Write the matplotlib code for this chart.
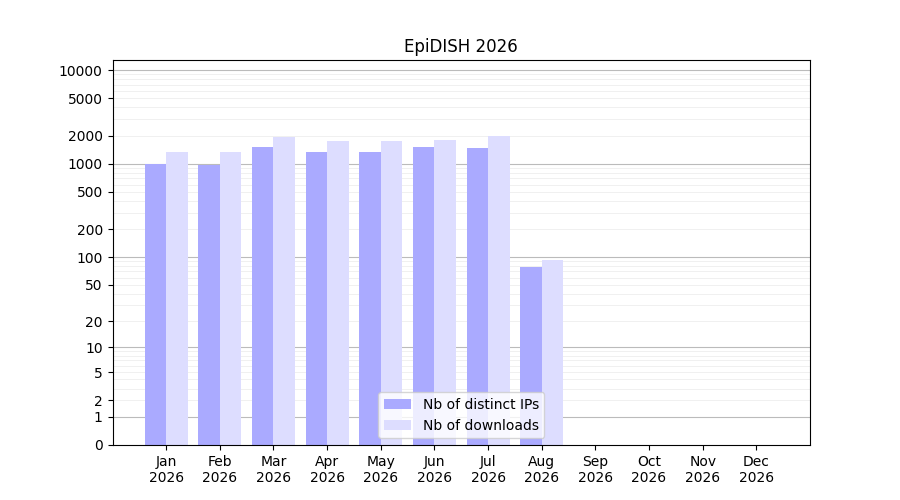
import matplotlib
matplotlib.use("Agg")
import matplotlib.pyplot as plt
import numpy as np

months = ["Jan", "Feb", "Mar", "Apr", "May", "Jun", "Jul", "Aug", "Sep", "Oct", "Nov", "Dec"]
year = "2026"
ips = [1000, 980, 1520, 1320, 1320, 1500, 1480, 78]
downloads = [1350, 1330, 1950, 1750, 1750, 1800, 1980, 93]
yticks = [0, 1, 2, 5, 10, 20, 50, 100, 200, 500, 1000, 2000, 5000, 10000]

fig, ax = plt.subplots(figsize=(9, 5), dpi=100)
ax.set_yscale("function", functions=(lambda v: np.log10(1 + np.clip(v, 0, None)),
                                      lambda v: 10 ** v - 1))
x = np.arange(len(ips))
ax.bar(x - 0.2, ips, width=0.4, color="#aaaaff", label="Nb of distinct IPs")
ax.bar(x + 0.2, downloads, width=0.4, color="#ddddff", label="Nb of downloads")
ax.set_xticks(np.arange(len(months)))
ax.set_xticklabels([f"{m}\n{year}" for m in months])
ax.set_xlim(-1, 12)
ax.set_ylim(0, 12800)
ax.set_yticks(yticks)
ax.set_yticklabels([str(t) for t in yticks])
minor = [m * 10 ** d for d in range(0, 5) for m in range(2, 10) if m * 10 ** d < 12800]
ax.set_yticks(minor, minor=True)
ax.tick_params(axis="y", which="minor", length=0)
for d in [1, 10, 100, 1000, 10000]:
    ax.axhline(d, color="#bbbbbb", lw=0.8, zorder=0)
for m in minor:
    ax.axhline(m, color="#eeeeee", lw=0.6, zorder=0)
ax.set_title("EpiDISH 2026")
ax.legend(loc="lower center")
fig.subplots_adjust(left=0.125, right=0.9, top=0.88, bottom=0.11)
fig.savefig("out.png")
